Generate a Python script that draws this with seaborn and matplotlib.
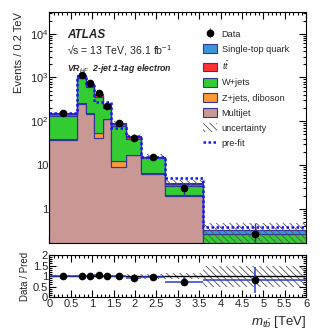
import numpy as np
import pandas as pd
import matplotlib
matplotlib.use('Agg')
import matplotlib.pyplot as plt
import seaborn as sns
from matplotlib.patches import Patch
from matplotlib.lines import Line2D
from matplotlib.ticker import MultipleLocator, LogLocator, NullFormatter, FixedLocator, FixedFormatter

# binning (TeV)
edges = [0, 0.65, 0.85, 1.05, 1.25, 1.45, 1.8, 2.15, 2.7, 3.6, 6.0]

# post-fit backgrounds, events / 0.2 TeV
multijet = [37, 245, 145, 41, 112, 9, 16.5, 6.3, 2.0, 0]
zjets = [1.5, 15, 8, 12, 2, 3, 0.5, 0.2, 0.1, 0]
wjets = [92, 715, 465, 300, 86, 64, 22, 7.8, 1.25, 0.26]
ttbar = [14, 90, 60, 40, 18, 11, 4, 0.6, 0.25, 0.01]
singletop = [8, 65, 45, 30, 12, 6, 2.5, 0.6, 0.35, 0.05]
rel_unc = [0.03, 0.03, 0.03, 0.03, 0.04, 0.06, 0.10, 0.12, 0.15, 0.50]

# pre-fit total
prefit = [155, 1100, 650, 280, 280, 70, 45, 15.5, 5.1, 0.39]

# data
data = [152, 1145, 740, 437, 227, 93, 42, 15, 2.9, 0.26]
data_err_lo = [6.8, 34, 27, 21, 15, 7.3, 4.9, 2.3, 0.8, 0.2]
data_err_hi = [6.8, 34, 27, 21, 15, 7.3, 4.9, 2.3, 0.8, 0.2]

procs = ['Single-top quark', r'$t\bar{t}$', 'W+jets', 'Z+jets, diboson', 'Multijet']
colors = ['#3c95d6', '#ff3333', '#33cc33', '#ff9933', '#c99794']
navy = '#34349a'

sns.set_theme(style='ticks')
plt.rcParams['font.family'] = ['Liberation Sans', 'DejaVu Sans']
plt.rcParams['hatch.color'] = '#555555'
plt.rcParams['hatch.linewidth'] = 0.6
plt.rcParams['mathtext.fontset'] = 'custom'
plt.rcParams['mathtext.rm'] = 'Liberation Sans'
plt.rcParams['mathtext.it'] = 'Liberation Sans:italic'

edges_a = np.array(edges)
centers = 0.5 * (edges_a[:-1] + edges_a[1:])
halfw = 0.5 * np.diff(edges_a)

rows = []
for name, vals in zip(procs, [singletop, ttbar, wjets, zjets, multijet]):
    for c, v in zip(centers, vals):
        rows.append({'x': c, 'w': v, 'process': name})
df = pd.DataFrame(rows)

total = np.sum([multijet, zjets, wjets, ttbar, singletop], axis=0)
unc_lo = total * (1 - np.array(rel_unc))
unc_hi = total * (1 + np.array(rel_unc))

fig = plt.figure(figsize=(3.32, 3.32), dpi=100)
ax = fig.add_axes([0.149, 0.268, 0.773, 0.696])
rax = fig.add_axes([0.149, 0.105, 0.773, 0.127], sharex=ax)

ax.set_yscale('log')
sns.histplot(data=df, x='x', weights='w', hue='process', hue_order=procs,
             palette=colors, bins=edges, multiple='stack', element='step',
             alpha=1, edgecolor=navy, linewidth=0.8, legend=False, ax=ax)

ax.fill_between(edges, np.append(unc_lo, unc_lo[-1]), np.append(unc_hi, unc_hi[-1]),
                step='post', facecolor='none', edgecolor='#555555', hatch='\\\\\\\\\\',
                linewidth=0)
ax.stairs(prefit, edges, baseline=None, color='#1515ff', linestyle=(0, (1, 1)), linewidth=1.8)

dat = ax.errorbar(centers, data, yerr=[data_err_lo, data_err_hi], fmt='o', color='black',
                  ecolor=navy, elinewidth=1, markersize=4.5, capsize=0)

ax.set_xlim(0, 6)
ax.set_ylim(0.164, 3.14e4)
ax.yaxis.set_major_locator(FixedLocator([1, 10, 100, 1000, 10000]))
ax.yaxis.set_major_formatter(FixedFormatter(['1', '10', '$10^2$', '$10^3$', '$10^4$']))
ax.yaxis.set_minor_locator(LogLocator(base=10, subs=np.arange(2, 10), numticks=20))
ax.yaxis.set_minor_formatter(NullFormatter())
ax.xaxis.set_major_locator(MultipleLocator(0.5))
ax.xaxis.set_minor_locator(MultipleLocator(0.1))
ax.tick_params(axis='x', labelbottom=False)
ax.set_xlabel('')
ax.set_ylabel('Events / 0.2 TeV', fontsize=8, loc='top')

ax.text(0.068, 0.928, 'ATLAS', transform=ax.transAxes, fontsize=8.5, weight='bold',
        style='italic', va='top')
ax.text(0.068, 0.864, '√s = 13 TeV, 36.1 fb$^{-1}$', transform=ax.transAxes,
        fontsize=7.6, va='top')
ax.text(0.068, 0.785, r'VR$_{HF}$  2-jet 1-tag electron', transform=ax.transAxes,
        fontsize=6.3, weight='bold', style='italic', va='top')

handles = [dat] + [Patch(facecolor=c, edgecolor=navy, linewidth=0.8) for c in colors] + [
    Patch(facecolor='white', edgecolor='#555555', hatch='\\\\\\\\\\', linewidth=0),
    Line2D([], [], color='#1515ff', linestyle=(0, (1, 1)), linewidth=1.8)]
labels = ['Data'] + procs + ['uncertainty', 'pre-fit']
ax.legend(handles, labels, loc='upper left', bbox_to_anchor=(0.585, 0.942), frameon=False,
          fontsize=6.6, handlelength=1.55, handleheight=1.1, labelspacing=0.62,
          handletextpad=0.45, borderaxespad=0)

# ratio panel
ratio = np.array(data) / total
rax.fill_between(edges, np.append(1 - np.array(rel_unc), 1 - rel_unc[-1]),
                 np.append(1 + np.array(rel_unc), 1 + rel_unc[-1]),
                 step='post', facecolor='none', edgecolor='#555555', hatch='\\\\\\\\\\',
                 linewidth=0)
rax.axhline(1, color='black', linewidth=1)
rax.errorbar(centers, ratio, xerr=halfw,
             yerr=[np.array(data_err_lo) / total, np.array(data_err_hi) / total],
             fmt='o', color='black', ecolor='#2a3fcc', elinewidth=1.1, markersize=4.5,
             capsize=0)
rax.set_ylim(0, 2)
rax.yaxis.set_major_locator(FixedLocator([0, 0.5, 1, 1.5, 2]))
rax.yaxis.set_major_formatter(FixedFormatter(['0', '0.5', '1', '1.5', '2']))
rax.yaxis.set_minor_locator(MultipleLocator(0.1))
rax.set_ylabel('Data / Pred', fontsize=7, labelpad=2)
rax.set_xlabel(r'$m_{t\bar{b}}$ [TeV]', fontsize=9.5, loc='right')
rax.xaxis.set_major_locator(FixedLocator(np.arange(0, 6.01, 0.5)))
rax.xaxis.set_major_formatter(FixedFormatter(['0', '0.5', '1', '1.5', '2', '2.5', '3', '3.5',
                                              '4', '4.5', '5', '5.5', '6']))

for a in (ax, rax):
    a.tick_params(which='both', direction='in', top=True, right=True, labelsize=8,
                  width=0.8, color='black')
    a.tick_params(which='major', length=5)
    a.tick_params(which='minor', length=2.5)
    for s in a.spines.values():
        s.set_linewidth(0.8)
        s.set_color('black')
rax.tick_params(axis='x', pad=1)
rax.tick_params(axis='y', pad=1)
ax.tick_params(axis='y', pad=1)

fig.savefig('out.png', dpi=100)
